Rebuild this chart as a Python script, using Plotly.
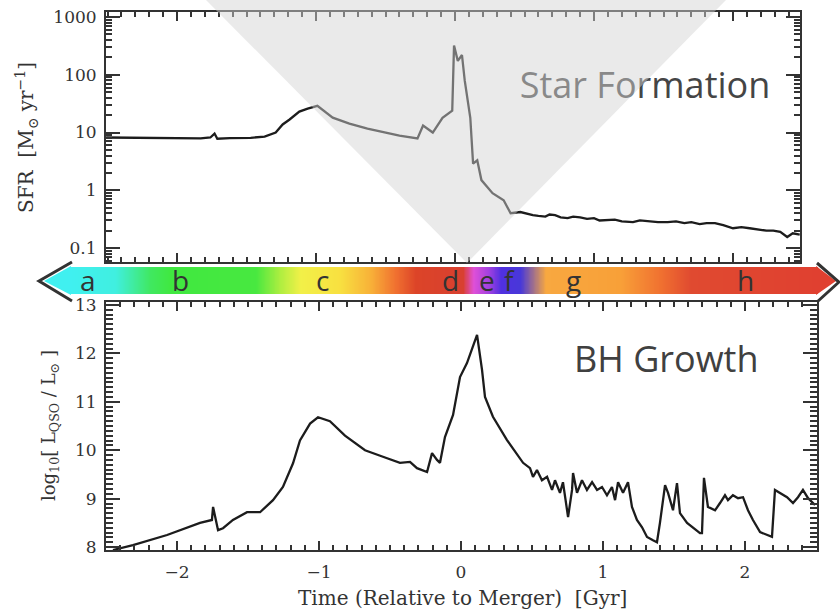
import plotly.graph_objects as go

# ---------------- data ----------------
sfr_time = [-2.51, -2.19, -1.98, -1.83, -1.76, -1.73, -1.71, -1.62, -1.47, -1.37, -1.29, -1.24,
            -1.19, -1.12, -1.06, -0.99, -0.88, -0.76, -0.63, -0.50, -0.40, -0.27, -0.23, -0.16,
            -0.09, -0.02, -0.007, 0.02, 0.05, 0.07, 0.11, 0.13, 0.16, 0.19, 0.27, 0.35, 0.40,
            0.47, 0.52, 0.56, 0.60, 0.65, 0.68, 0.72, 0.76, 0.81, 0.85, 0.90, 0.95, 1.00, 1.04,
            1.10, 1.15, 1.20, 1.28, 1.33, 1.40, 1.46, 1.53, 1.59, 1.65, 1.70, 1.76, 1.81, 1.87,
            1.93, 2.00, 2.06, 2.12, 2.18, 2.24, 2.29, 2.34, 2.39, 2.43, 2.48]
sfr_value = [8.2, 8.0, 7.9, 7.9, 8.2, 9.6, 7.8, 8.0, 8.1, 8.5, 10, 13.8,
             16.8, 23, 26, 29, 18.1, 14.3, 11.7, 10, 8.8, 7.9, 13.2, 10,
             18, 24, 320, 174, 220, 79, 18, 2.9, 3.3, 1.5, 0.89, 0.67, 0.40,
             0.42, 0.39, 0.37, 0.36, 0.35, 0.38, 0.37, 0.34, 0.33, 0.35, 0.34, 0.32, 0.33, 0.30,
             0.31, 0.31, 0.29, 0.28, 0.30, 0.29, 0.28, 0.28, 0.29, 0.27, 0.28, 0.26, 0.27, 0.27,
             0.25, 0.22, 0.23, 0.22, 0.21, 0.20, 0.20, 0.19, 0.155, 0.18, 0.17]

bh_time = [-2.451, -2.31, -2.07, -1.838, -1.754, -1.746, -1.711, -1.676, -1.606, -1.507, -1.415,
           -1.366, -1.324, -1.254, -1.183, -1.134, -1.063, -1.007, -0.923, -0.817, -0.676, -0.535,
           -0.430, -0.359, -0.310, -0.239, -0.204, -0.169, -0.148, -0.113, -0.056, -0.007, 0.042,
           0.113, 0.148, 0.169, 0.225, 0.324, 0.437, 0.486, 0.507, 0.535, 0.570,
           0.606, 0.641, 0.662, 0.697, 0.718, 0.754, 0.782, 0.789, 0.817, 0.852, 0.887, 0.923,
           0.958, 0.993, 1.028, 1.063, 1.085, 1.106, 1.141, 1.176, 1.204, 1.239, 1.275, 1.310,
           1.352, 1.380, 1.401, 1.437, 1.458, 1.493, 1.521, 1.542, 1.592, 1.634, 1.683, 1.697,
           1.711, 1.739, 1.789, 1.824, 1.859, 1.880, 1.915, 1.951, 1.986, 2.021, 2.056, 2.106,
           2.155, 2.190, 2.211, 2.246, 2.296, 2.338, 2.373, 2.408, 2.444, 2.493]
bh_value = [7.94, 8.04, 8.25, 8.50, 8.56, 8.83, 8.35, 8.39, 8.56, 8.72, 8.72,
            8.85, 8.97, 9.24, 9.73, 10.2, 10.55, 10.68, 10.6, 10.3, 10.0, 9.85,
            9.74, 9.76, 9.63, 9.55, 9.94, 9.80, 9.74, 10.27, 10.73, 11.51, 11.80,
            12.38, 11.66, 11.10, 10.69, 10.21, 9.74, 9.63, 9.45, 9.59, 9.38,
            9.45, 9.18, 9.38, 9.12, 9.34, 8.62, 9.18, 9.53, 9.12, 9.38, 9.18, 9.34,
            9.18, 9.24, 9.07, 9.24, 8.97, 9.34, 9.12, 9.34, 8.83, 8.56, 8.41, 8.21,
            8.14, 8.10, 8.50, 9.28, 9.12, 8.76, 9.32, 8.70, 8.50, 8.41, 8.29, 8.29,
            9.43, 8.83, 8.76, 8.91, 9.07, 8.97, 9.07, 9.01, 9.03, 8.76, 8.56, 8.31,
            8.25, 8.21, 9.18, 9.12, 9.03, 8.91, 9.03, 9.18, 9.01, 8.87]

x_tickvals = [-2, -1, 0, 1, 2]
x_ticktext = ["\u22122", "\u22121", "0", "1", "2"]
sfr_tickvals = [0.1, 1, 10, 100, 1000]
sfr_ticktext = ["0.1", "1", "10", "100", "1000"]
bh_tickvals = [8, 9, 10, 11, 12, 13]
phase_labels = ["a", "b", "c", "d", "e", "f", "g", "h"]
phase_pos = [88, 180, 322, 450, 487, 510, 573, 745]   # pixel positions along the bar

# ---------------- helpers ----------------
W, H = 840, 611
def X(px): return px / W
def Y(py): return 1 - py / H

serif = "DejaVu Serif"
sans = "Open Sans"
axcol = "#333333"
linecol = "#1c1c1c"

fig = go.Figure()

fig.add_trace(go.Scatter(x=sfr_time, y=sfr_value, mode="lines",
                         line=dict(color=linecol, width=2.3), xaxis="x", yaxis="y",
                         showlegend=False, hoverinfo="skip"))
fig.add_trace(go.Scatter(x=bh_time, y=bh_value, mode="lines",
                         line=dict(color=linecol, width=2.3), xaxis="x2", yaxis="y2",
                         showlegend=False, hoverinfo="skip"))

bar_n = 300
bar_x = [i / (bar_n - 1) for i in range(bar_n)]
bar_scale = [
    [0.0, "#40f0f0"], [0.06, "#40efe0"], [0.107, "#40e860"], [0.134, "#40e840"],
    [0.248, "#48e840"], [0.281, "#b0ee40"], [0.308, "#f2f048"], [0.361, "#f8e040"],
    [0.402, "#f8b038"], [0.435, "#f07030"], [0.462, "#dc4428"], [0.525, "#d84030"],
    [0.539, "#e050d8"], [0.56, "#a040e0"], [0.576, "#5030e0"], [0.602, "#4838d8"],
    [0.636, "#f8a840"], [0.736, "#f8a038"], [0.79, "#f07030"], [0.83, "#e04a30"],
    [1.0, "#e04030"]]
fig.add_trace(go.Heatmap(z=[bar_x], x=bar_x, y=[0], colorscale=bar_scale, zsmooth="best",
                         showscale=False, xaxis="x3", yaxis="y3", hoverinfo="skip"))

# panel caption as a text trace (so the translucent overlay can dim part of it)
fig.add_trace(go.Scatter(x=[645], y=[89], mode="text", text=["Star Formation"],
                         textposition="middle center",
                         textfont=dict(family=sans, size=36, color="#454545"),
                         xaxis="x4", yaxis="y4", showlegend=False, hoverinfo="skip",
                         cliponaxis=False))

common_ax = dict(showline=True, linecolor=axcol, linewidth=2, mirror="allticks",
                 ticks="inside", tickcolor=axcol, showgrid=False, zeroline=False,
                 tickfont=dict(family=serif, size=17, color=axcol))

fig.update_layout(
    width=W, height=H, margin=dict(l=0, r=0, t=0, b=0, pad=0, autoexpand=False),
    paper_bgcolor="white", plot_bgcolor="rgba(0,0,0,0)",
    xaxis=dict(domain=[X(106), X(800)], range=[-2.511, 2.482], anchor="y",
               tickvals=x_tickvals, ticklen=9, tickwidth=1.5, showticklabels=False,
               minor=dict(dtick=0.1, ticks="inside", ticklen=5, tickcolor=axcol), **common_ax),
    yaxis=dict(domain=[Y(262), Y(12)], type="log", range=[-1.242, 3.087], anchor="x",
               tickvals=sfr_tickvals, ticktext=sfr_ticktext, ticklen=14, tickwidth=1.5,
               ticklabelstandoff=4,
               minor=dict(tickmode="array",
                          tickvals=[m * 10 ** e for e in range(-2, 4) for m in range(2, 10)],
                          ticks="inside", ticklen=6, tickcolor=axcol), **common_ax),
    xaxis2=dict(domain=[X(106), X(817)], range=[-2.5, 2.507], anchor="y2",
                tickvals=x_tickvals, ticktext=x_ticktext, ticklen=9, tickwidth=1.5,
                ticklabelstandoff=6,
                minor=dict(dtick=0.1, ticks="inside", ticklen=5, tickcolor=axcol), **common_ax),
    yaxis2=dict(domain=[Y(550), Y(302)], range=[7.94, 13.06], anchor="x2",
                tickvals=bh_tickvals, ticklen=14, tickwidth=1.5, ticklabelstandoff=4,
                minor=dict(dtick=0.1, ticks="inside", ticklen=7, tickcolor=axcol), **common_ax),
    xaxis3=dict(domain=[X(70), X(818)], range=[0, 1], visible=False, anchor="y3"),
    yaxis3=dict(domain=[Y(294), Y(267)], range=[-0.5, 0.5], visible=False, anchor="x3"),
    xaxis4=dict(domain=[0, 1], range=[0, W], visible=False, anchor="y4"),
    yaxis4=dict(domain=[0, 1], range=[H, 0], visible=False, anchor="x4"),
)

shapes = []
shapes.append(dict(type="path", xref="paper", yref="paper", layer="below",
                   path=f"M {X(44)},{Y(281)} L {X(71)},{Y(266)} L {X(71)},{Y(295)} Z",
                   fillcolor="#40f0f0", line=dict(width=0)))
shapes.append(dict(type="path", xref="paper", yref="paper", layer="below",
                   path=f"M {X(836)},{Y(281)} L {X(816)},{Y(266)} L {X(816)},{Y(295)} Z",
                   fillcolor="#e04030", line=dict(width=0)))
shapes.append(dict(type="path", xref="paper", yref="paper", layer="above",
                   path=f"M {X(72)},{Y(262)} L {X(39)},{Y(281)} L {X(72)},{Y(301)}",
                   line=dict(color="#333333", width=3)))
shapes.append(dict(type="path", xref="paper", yref="paper", layer="above",
                   path=f"M {X(817)},{Y(263)} L {X(839)},{Y(282)} L {X(817)},{Y(302)}",
                   line=dict(color="#333333", width=3)))
# translucent grey triangle overlay
shapes.append(dict(type="path", xref="paper", yref="paper", layer="above",
                   path=f"M {X(206)},{Y(0)} L {X(726)},{Y(0)} L {X(467)},{Y(263)} Z",
                   fillcolor="rgba(212,212,212,0.48)", line=dict(width=0)))
fig.update_layout(shapes=shapes)

def ann(text, px, py, font, angle=0):
    return dict(text=text, x=X(px), y=Y(py), xref="paper", yref="paper", showarrow=False,
                xanchor="center", yanchor="middle", textangle=angle, font=font)

annotations = [ann("BH Growth", 666, 358, dict(family=sans, size=36, color="#404040"))]
for lab, p in zip(phase_labels, phase_pos):
    annotations.append(ann(lab, p, 280, dict(family=sans, size=28, color="#333333")))
annotations.append(ann("SFR  [M<sub>\u2299</sub> yr<sup>\u22121</sup>]", 26, 138,
                       dict(family=serif, size=20, color=axcol), -90))
annotations.append(ann("log<sub>10</sub>[ L<sub>QSO</sub> / L<sub>\u2299</sub> ]", 50, 426,
                       dict(family=serif, size=18, color=axcol), -90))
annotations.append(ann("Time (Relative to Merger)  [Gyr]", 462, 598,
                       dict(family=serif, size=20, color=axcol)))
fig.update_layout(annotations=annotations)

fig.write_html("out.html")
